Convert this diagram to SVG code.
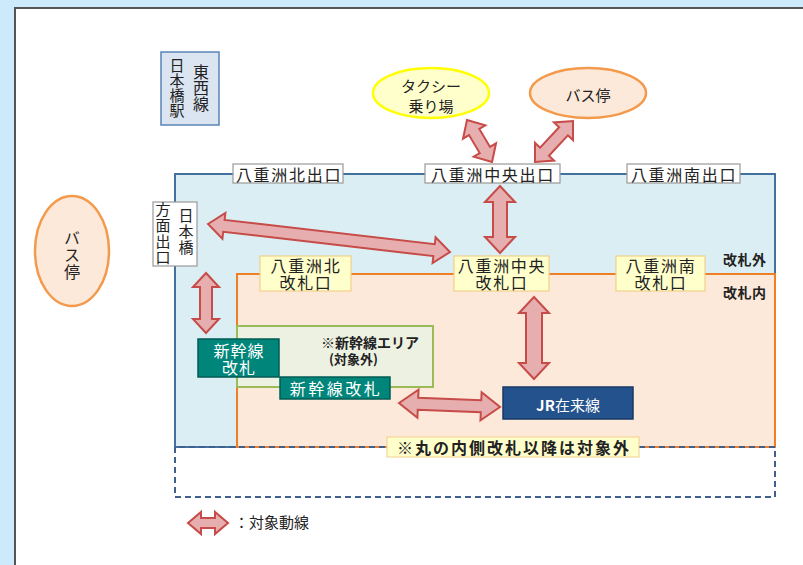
<svg xmlns="http://www.w3.org/2000/svg" width="803" height="565" viewBox="0 0 803 565">
<style>
text{font-family:"Noto Sans CJK JP","Noto Sans",sans-serif;fill:#222;}
.c{text-anchor:middle;dominant-baseline:central;}
.v{writing-mode:vertical-rl;text-orientation:upright;}
.lbl{fill:#fff;stroke:#9a9a9a;stroke-width:1.2;}
.gate{fill:#ffffcc;stroke:#f2d08a;stroke-width:1.2;}
.arr{fill:#e6aeae;stroke:#c74b48;stroke-width:2;stroke-linejoin:miter;}
.big{font-size:16px;letter-spacing:1.7px;}
.w{fill:#fff;}
.b{font-weight:bold;}
</style>
<rect x="0" y="0" width="803" height="565" fill="#cdeafd"/>
<rect x="15" y="8" width="800" height="570" fill="#fff" stroke="#555" stroke-width="2"/>

<g id="areas">
<rect x="175" y="174" width="600" height="273" fill="#daeef3" stroke="#41719c" stroke-width="2"/>
<rect x="237" y="274" width="538" height="173" fill="#fde9d9" stroke="#ef7f26" stroke-width="2"/>
<path d="M175 447 V497 H775 V447 H175" fill="none" stroke="#3f5f8f" stroke-width="2" stroke-dasharray="6 4"/>
</g>

<g id="station">
<rect x="161" y="52" width="58" height="73" fill="#dbe5f1" stroke="#5a84b8" stroke-width="1.5"/>
<text class="v" x="201" y="64" font-size="16">東西線</text>
<text class="v" x="177" y="58" font-size="15">日本橋駅</text>
</g>

<g id="taxi">
<ellipse cx="431" cy="93" rx="58" ry="25" fill="#ffffcc" stroke="#ffff00" stroke-width="2.5"/>
<text class="c" font-size="15"><tspan x="431" y="85">タクシー</tspan><tspan x="431" y="105">乗り場</tspan></text>
</g>

<g id="bus-top">
<ellipse cx="588" cy="93" rx="58" ry="25" fill="#fde9d9" stroke="#f39a4c" stroke-width="2.5"/>
<text class="c" x="588" y="94" font-size="15">バス停</text>
</g>

<g id="bus-left">
<ellipse cx="72" cy="251" rx="37" ry="55" fill="#fde9d9" stroke="#f39a4c" stroke-width="2.5"/>
<text class="v" x="72" y="230" font-size="16" letter-spacing="1">バス停</text>
</g>

<g id="exit-north">
<rect class="lbl" x="233" y="164" width="110" height="19"/>
<text class="c big" x="289" y="174">八重洲北出口</text>
</g>
<g id="exit-central">
<rect class="lbl" x="425" y="164" width="135" height="19"/>
<text class="c big" x="493" y="174">八重洲中央出口</text>
</g>
<g id="exit-south">
<rect class="lbl" x="627" y="164" width="113" height="19"/>
<text class="c big" x="684" y="174">八重洲南出口</text>
</g>

<g id="exit-nihonbashi">
<rect class="lbl" x="153" y="202" width="44" height="64"/>
<text class="v" x="186" y="208" font-size="15" letter-spacing="1">日本橋</text>
<text class="v" x="163" y="202" font-size="15" letter-spacing="1">方面出口</text>
</g>

<g id="gate-north">
<rect class="gate" x="260" y="256" width="91" height="35"/>
<text class="c big"><tspan x="306" y="265">八重洲北</tspan><tspan x="306" y="282">改札口</tspan></text>
</g>
<g id="gate-central">
<rect class="gate" x="454" y="256" width="95" height="35"/>
<text class="c big"><tspan x="502" y="265">八重洲中央</tspan><tspan x="502" y="282">改札口</tspan></text>
</g>
<g id="gate-south">
<rect class="gate" x="616" y="256" width="89" height="35"/>
<text class="c big"><tspan x="661" y="265">八重洲南</tspan><tspan x="661" y="282">改札口</tspan></text>
</g>

<g id="zone-labels">
<text class="b" x="723" y="265" font-size="14" letter-spacing="0.5">改札外</text>
<text class="b" x="723" y="298" font-size="14" letter-spacing="0.5">改札内</text>
</g>

<g id="shinkansen-area">
<rect x="237" y="326" width="196" height="61" fill="#edf1e2" stroke="#9bbb59" stroke-width="2"/>
<text class="b"><tspan x="321" y="348" font-size="14">※新幹線エリア</tspan><tspan x="329" y="364" font-size="13">(対象外)</tspan></text>
</g>

<g id="shinkansen-gate-1">
<rect x="198" y="339" width="81" height="38" fill="#00857a" stroke="#005c55" stroke-width="1.5"/>
<text class="c w" font-size="16" letter-spacing="1"><tspan x="239" y="350">新幹線</tspan><tspan x="239" y="367">改札</tspan></text>
</g>
<g id="shinkansen-gate-2">
<rect x="280" y="377" width="110" height="22" fill="#00857a" stroke="#005c55" stroke-width="1.5"/>
<text class="c w" x="336" y="388" font-size="16" letter-spacing="2.5">新幹線改札</text>
</g>

<g id="jr-line">
<rect x="503" y="387" width="130" height="32" fill="#24528c" stroke="#173a66" stroke-width="1.5"/>
<text class="c w" x="568" y="404" font-size="15"><tspan font-weight="bold">JR</tspan>在来線</text>
</g>

<g id="note">
<rect x="387" y="437" width="252" height="20" fill="#ffffcc" stroke="#f2d08a" stroke-width="1"/>
<text class="c b" x="514" y="447" font-size="16" letter-spacing="2">※丸の内側改札以降は対象外</text>
</g>

<g id="connectors">
<g transform="translate(467 120) rotate(59.2)"><path class="arr" d="M0 0 L14 -13 L14 -6 L34.9 -6 L34.9 -13 L48.9 0 L34.9 13 L34.9 6 L14 6 L14 13 Z"/></g>
<g transform="translate(573 121) rotate(132.8)"><path class="arr" d="M0 0 L14 -13 L14 -6 L41.9 -6 L41.9 -13 L55.9 0 L41.9 13 L41.9 6 L14 6 L14 13 Z"/></g>
<g transform="translate(500 186) rotate(90)"><path class="arr" d="M0 0 L16 -15 L16 -7 L51 -7 L51 -15 L67 0 L51 15 L51 7 L16 7 L16 15 Z"/></g>
<g transform="translate(208 224) rotate(6.6)"><path class="arr" d="M0 0 L16 -13 L16 -6 L227.6 -6 L227.6 -13 L243.6 0 L227.6 13 L227.6 6 L16 6 L16 13 Z"/></g>
<g transform="translate(206 273) rotate(90)"><path class="arr" d="M0 0 L14 -13 L14 -6 L46 -6 L46 -13 L60 0 L46 13 L46 6 L14 6 L14 13 Z"/></g>
<g transform="translate(534 297) rotate(90)"><path class="arr" d="M0 0 L16 -15 L16 -8 L66 -8 L66 -15 L82 0 L66 15 L66 8 L16 8 L16 15 Z"/></g>
<g transform="translate(399 403) rotate(2.3)"><path class="arr" d="M0 0 L19 -14 L19 -6 L82.1 -6 L82.1 -14 L101.1 0 L82.1 14 L82.1 6 L19 6 L19 14 Z"/></g>
</g>

<g id="legend">
<g transform="translate(188 523)"><path class="arr" d="M0 0 L13 -11 L13 -5 L27 -5 L27 -11 L40 0 L27 11 L27 5 L13 5 L13 11 Z"/></g>
<text x="234" y="528" font-size="15">：対象動線</text>
</g>
</svg>
